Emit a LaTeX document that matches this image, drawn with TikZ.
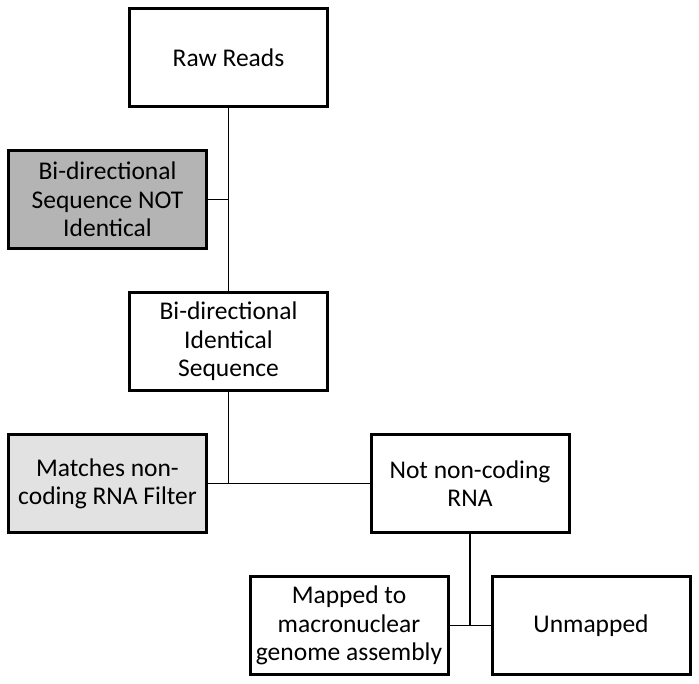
\documentclass[tikz,border=0pt]{standalone}
\usepackage{fontspec}
\setmainfont{Carlito}
\definecolor{darkfill}{HTML}{B4B4B4}
\definecolor{lightfill}{HTML}{E2E2E2}
\tikzset{
  box/.style={draw=black, line width=3pt, fill=white, minimum width=198pt, minimum height=98pt,
    inner sep=0pt, align=center, font=\fontsize{25.5}{28.3}\selectfont},
  conn/.style={line width=1.3pt, draw=black}
}
\begin{document}
\begin{tikzpicture}[x=1pt,y=-1pt]
\useasboundingbox (0,0) rectangle (699,684);
\node[box] (raw) at (228.5,57.5) {Raw Reads};
\node[box, fill=darkfill] (notid) at (107.5,199.5) {Bi-directional\\Sequence NOT\\Identical};
\node[box] (ident) at (228.5,341.5) {Bi-directional\\Identical\\Sequence};
\node[box, fill=lightfill] (match) at (107.5,483.5) {Matches non-\\coding RNA Filter};
\node[box] (notnc) at (470,483.5) {Not non-coding\\RNA};
\node[box] (mapped) at (349,625.5) {Mapped to\\macronuclear\\genome assembly};
\node[box] (unmapped) at (591,625.5) {Unmapped};
\draw[conn] (raw.south) -- (ident.north);
\draw[conn] (notid.east) -- (raw.south |- notid.east);
\draw[conn] (ident.south) -- (ident.south |- match.east);
\draw[conn] (match.east) -- (notnc.west);
\draw[conn] (notnc.south) -- (notnc.south |- mapped.east);
\draw[conn] (mapped.east) -- (unmapped.west);
\end{tikzpicture}
\end{document}
